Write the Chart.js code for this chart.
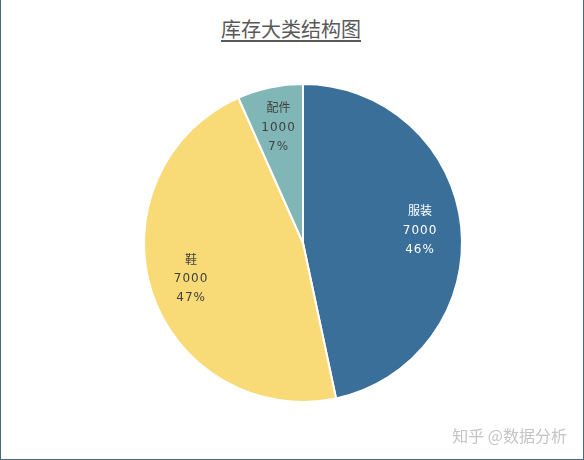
<!DOCTYPE html>
<html>
<head>
<meta charset="utf-8">
<script src="https://cdn.jsdelivr.net/npm/chart.js"></script>
<style>
  body { margin: 0; background: #fff; }
  #wrap {
    position: relative; width: 584px; height: 460px; box-sizing: border-box;
    border-left: 1.5px solid #4a6b7a; border-right: 1.5px solid #4a6b7a; border-bottom: 1.5px solid #4a6b7a;
    font-family: "Noto Sans CJK SC", "Noto Sans", sans-serif;
  }
  #title {
    position: absolute; left: 0; top: 14px; width: 580px; text-align: center;
    font-size: 20px; color: #595959; text-decoration: underline; text-underline-offset: 3px;
  }
  #mark {
    position: absolute; right: 16px; bottom: 12px; font-size: 16px; color: #c4c4c4;
  }
  canvas { position: absolute; left: -2px; top: 0; }
</style>
</head>
<body>
<div id="wrap">
  <div id="title">库存大类结构图</div>
  <canvas id="pieChart" width="584" height="460"></canvas>
  <div id="mark">知乎 @数据分析</div>
</div>
<script>
const categories = ['服装', '鞋', '配件'];
const stock = [7000, 7000, 1000];
const percentLabels = ['46%', '47%', '7%'];
const sliceColors = ['#3a6f9a', '#f8da76', '#80b7b6'];
const labelColors = ['#ffffff', '#404040', '#404040'];

// draws category / value / percent inside each slice
const sliceLabels = {
  id: 'sliceLabels',
  afterDatasetsDraw(chart) {
    const ctx = chart.ctx;
    const meta = chart.getDatasetMeta(0);
    meta.data.forEach((arc, i) => {
      const mid = (arc.startAngle + arc.endAngle) / 2;
      const r = arc.outerRadius * 0.74;
      const x = arc.x + Math.cos(mid) * r;
      const y = arc.y + Math.sin(mid) * r;
      ctx.save();
      ctx.fillStyle = labelColors[i];
      ctx.textAlign = 'center';
      ctx.textBaseline = 'middle';
      ctx.font = '12px "Noto Sans CJK SC", sans-serif';
      ctx.fillText(categories[i], x, y - 20);
      ctx.font = '12px "DejaVu Sans", sans-serif';
      ctx.letterSpacing = '1px';
      ctx.fillText(stock[i], x, y);
      ctx.fillText(percentLabels[i], x, y + 19);
      ctx.restore();
    });
  }
};

new Chart(document.getElementById('pieChart'), {
  type: 'pie',
  data: {
    labels: categories,
    datasets: [{
      data: stock,
      backgroundColor: sliceColors,
      borderColor: '#ffffff',
      borderWidth: 2,
      hoverOffset: 0
    }]
  },
  options: {
    responsive: false,
    animation: false,
    layout: { padding: { top: 83, bottom: 57, left: 24, right: 0 } },
    plugins: {
      legend: { display: false },
      tooltip: { enabled: false }
    }
  },
  plugins: [sliceLabels]
});
</script>
</body>
</html>
